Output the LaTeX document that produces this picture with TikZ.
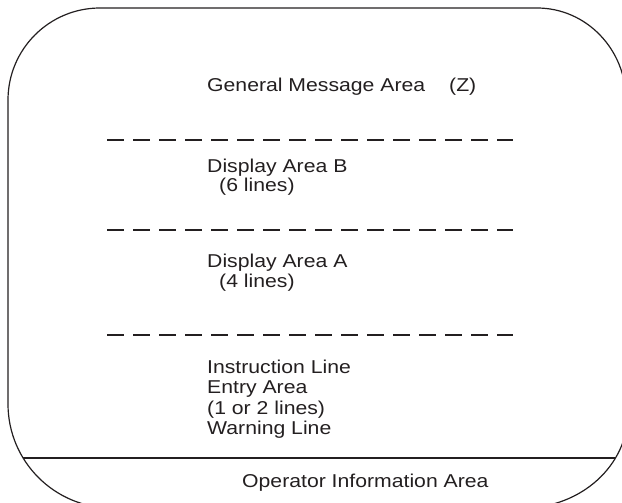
\documentclass[tikz,border=0pt]{standalone}
\usepackage{fontspec}
\setmainfont{Liberation Sans}[FakeStretch=1.14]
\definecolor{ink}{HTML}{231F20}
\tikzset{
  outline/.style={draw=ink, line width=1.2pt},
  divider/.style={draw=ink, line width=1.3pt, dash pattern=on 17pt off 9pt},
  sep/.style={draw=ink, line width=1.2pt},
  txt/.style={anchor=base west, inner sep=0pt, text=ink, font=\fontsize{18.6}{20}\selectfont},
}
\begin{document}
\begin{tikzpicture}[x=1pt,y=-1pt]
\useasboundingbox (0,0) rectangle (622,503);
\begin{scope}
\clip (0,0) rectangle (622,503);
\def\outlinepath{(8,100) arc[start angle=180, end angle=270, radius=92]
  -- (537,8) arc[start angle=270, end angle=360, x radius=89, y radius=92]
  -- (628,413) arc[start angle=0, end angle=90, x radius=105, y radius=95]
  -- (112,508) arc[start angle=90, end angle=180, radius=104]
  -- cycle}
\draw[outline] \outlinepath;
\begin{scope}
\clip \outlinepath;
\coordinate (hl) at (0,458);
\coordinate (hr) at (640,458);
\draw[sep] (hl) -- (hr);
\end{scope}
\end{scope}

\coordinate (d1l) at (107,140); \coordinate (d1r) at (513,140);
\coordinate (d2l) at (107,230); \coordinate (d2r) at (513,230);
\coordinate (d3l) at (107,335); \coordinate (d3r) at (513,335);
\draw[divider] (d1l) -- (d1r);
\draw[divider] (d2l) -- (d2r);
\draw[divider] (d3l) -- (d3r);

\node[txt] (gma) at (207,92) {General Message Area\hspace{24pt}(Z)};
\node[txt] (dab) at (207,172) {Display Area B};
\node[txt] (dab2) at (219,191) {(6 lines)};
\node[txt] (daa) at (207,267) {Display Area A};
\node[txt] (daa2) at (219,287) {(4 lines)};
\node[txt] (il) at (207,373) {Instruction Line};
\node[txt] (ea) at (207,393.5) {Entry Area};
\node[txt] (ea2) at (207,414) {(1 or 2 lines)};
\node[txt] (wl) at (207,434.5) {Warning Line};
\node[txt] (oia) at (242,487) {Operator Information Area};
\end{tikzpicture}
\end{document}
